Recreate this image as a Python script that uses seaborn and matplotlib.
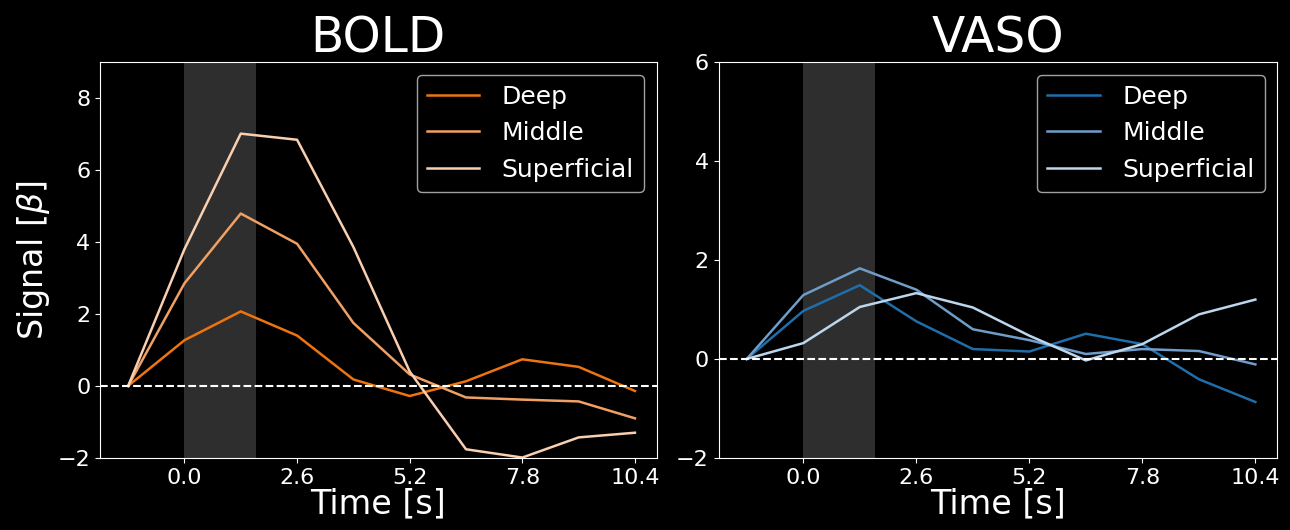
import numpy as np
import pandas as pd
import matplotlib
matplotlib.use('Agg')
import matplotlib.pyplot as plt
import seaborn as sns

# time points (s)
time = [-1.3, 0.0, 1.3, 2.6, 3.9, 5.2, 6.5, 7.8, 9.1, 10.4]
layers = ['Deep', 'Middle', 'Superficial']

bold_deep = [0, 1.27, 2.07, 1.4, 0.18, -0.28, 0.13, 0.74, 0.53, -0.14]
bold_middle = [0, 2.85, 4.79, 3.95, 1.75, 0.32, -0.32, -0.38, -0.43, -0.9]
bold_superficial = [0, 3.8, 7.01, 6.84, 3.86, 0.4, -1.76, -1.99, -1.43, -1.3]

vaso_deep = [0, 0.97, 1.49, 0.76, 0.2, 0.15, 0.51, 0.3, -0.41, -0.87]
vaso_middle = [0, 1.29, 1.83, 1.4, 0.6, 0.38, 0.1, 0.2, 0.16, -0.11]
vaso_superficial = [0, 0.32, 1.05, 1.33, 1.04, 0.47, -0.03, 0.3, 0.9, 1.2]

bold_colors = ['#ee7410', '#f0a064', '#f8cfb0']
vaso_colors = ['#1f6eaa', '#6f9cc8', '#bcd6ec']

stim_start, stim_end = 0.0, 1.65


def long_df(series):
    rows = []
    for name, vals in zip(layers, series):
        for t, v in zip(time, vals):
            rows.append({'Time': t, 'Signal': v, 'Layer': name})
    return pd.DataFrame(rows)


bold_df = long_df([bold_deep, bold_middle, bold_superficial])
vaso_df = long_df([vaso_deep, vaso_middle, vaso_superficial])

plt.style.use('dark_background')
plt.rcParams['font.family'] = ['DejaVu Sans']

fig = plt.figure(figsize=(12.9, 5.3), dpi=100)
ax1 = fig.add_axes([0.0775, 0.136, 0.4315, 0.747])
ax2 = fig.add_axes([0.557, 0.136, 0.433, 0.747])

panels = [(ax1, bold_df, bold_colors, 'BOLD', (-2, 9)),
          (ax2, vaso_df, vaso_colors, 'VASO', (-2, 6))]

for ax, df, cols, title, ylim in panels:
    ax.axvspan(stim_start, stim_end, color='#2e2e2e', lw=0, zorder=0)
    sns.lineplot(data=df, x='Time', y='Signal', hue='Layer', palette=cols,
                 ax=ax, lw=1.8)
    ax.axhline(0, color='white', ls='--', lw=1.5)
    ax.set_xlim(-1.95, 10.9)
    ax.set_ylim(*ylim)
    ax.set_yticks(np.arange(ylim[0], ylim[1] + 0.1, 2))
    ax.set_xticks([0.0, 2.6, 5.2, 7.8, 10.4])
    ax.set_xticklabels(['0.0', '2.6', '5.2', '7.8', '10.4'])
    ax.tick_params(labelsize=16)
    ax.set_title(title, fontsize=35, pad=6)
    ax.set_xlabel('Time [s]', fontsize=24, labelpad=0)
    ax.set_ylabel('')
    leg = ax.legend(loc='upper right', fontsize=18, handlelength=2.1,
                    handletextpad=0.9)
    leg.get_frame().set_facecolor('black')

ax1.set_ylabel(r'Signal [$\beta$]', fontsize=24)

fig.savefig('out.png', dpi=100, facecolor='black')
